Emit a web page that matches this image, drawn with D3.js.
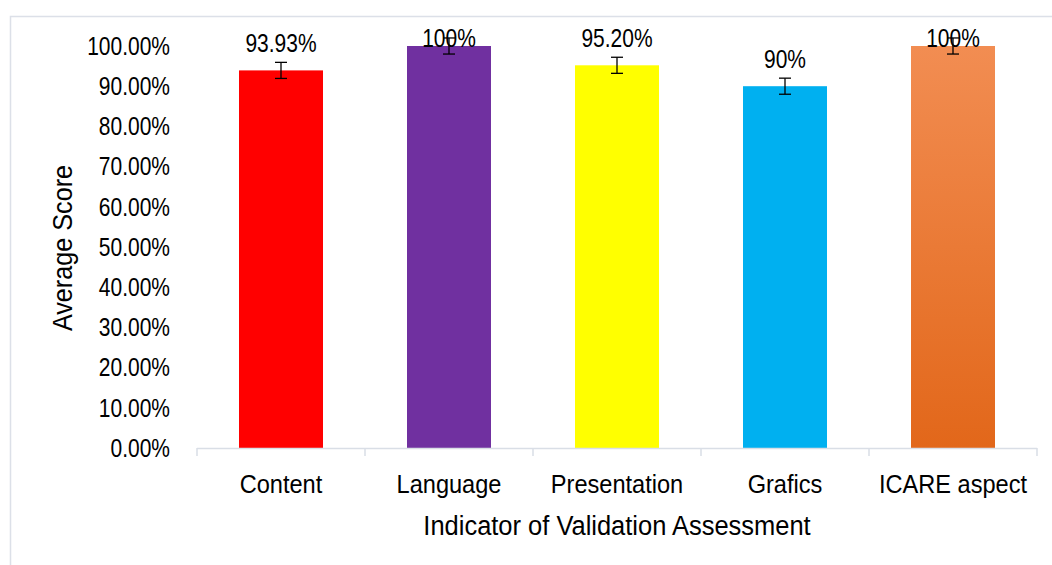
<!DOCTYPE html>
<html>
<head>
<meta charset="utf-8">
<script src="https://cdn.jsdelivr.net/npm/d3@7"></script>
<style>
  body { margin: 0; background: #fff; }
  svg text { font-family: "Liberation Sans", Arial, sans-serif; fill: #000; }
</style>
</head>
<body>
<svg id="chart"></svg>
<script>
const categories = ["Content", "Language", "Presentation", "Grafics", "ICARE aspect"];
const scores = [93.93, 100, 95.2, 90, 100];
const errors = [2, 2, 2, 2, 2];
const valueLabels = ["93.93%", "100%", "95.20%", "90%", "100%"];
const yTicks = [0, 10, 20, 30, 40, 50, 60, 70, 80, 90, 100];
const colors = ["#FF0000", "#7030A0", "#FFFF00", "#00B0F0", "url(#orangeGrad)"];

const svgWidth = 1052, svgHeight = 565;
const plotLeft = 197, plotRight = 1037, plotTop = 46, plotBottom = 448;

const svg = d3.select("#chart")
    .attr("width", svgWidth)
    .attr("height", svgHeight);

// gradient for the last bar
const grad = svg.append("defs").append("linearGradient")
    .attr("id", "orangeGrad")
    .attr("x1", 0).attr("y1", 0).attr("x2", 0).attr("y2", 1);
grad.append("stop").attr("offset", "0%").attr("stop-color", "#F28D52");
grad.append("stop").attr("offset", "100%").attr("stop-color", "#E2671A");

// chart frame
svg.append("rect")
    .attr("x", 10.5).attr("y", 16.5)
    .attr("width", 1100).attr("height", 600)
    .attr("fill", "none")
    .attr("stroke", "#DCE0E8")
    .attr("stroke-width", 1.5);

const x = d3.scaleBand()
    .domain(categories)
    .range([plotLeft, plotRight])
    .paddingInner(0.5)
    .paddingOuter(0.25);

const y = d3.scaleLinear()
    .domain([0, 100])
    .range([plotBottom, plotTop]);

// narrow font look: squeeze Liberation Sans horizontally
const at = (px, py, s) => `translate(${px},${py}) scale(${s},1)`;

// y tick labels (no axis line in the original)
svg.selectAll(".ytick")
    .data(yTicks)
    .enter()
    .append("text")
    .attr("class", "ytick")
    .attr("transform", d => at(170, y(d), 0.84))
    .attr("dy", "0.35em")
    .attr("text-anchor", "end")
    .style("font-size", "25px")
    .text(d => d.toFixed(2) + "%");

// bars
svg.selectAll(".bar")
    .data(scores)
    .enter()
    .append("rect")
    .attr("class", "bar")
    .attr("x", (d, i) => x(categories[i]))
    .attr("y", d => y(d))
    .attr("width", x.bandwidth())
    .attr("height", d => y(0) - y(d))
    .attr("fill", (d, i) => colors[i]);

// x axis line and boundary ticks
svg.append("line")
    .attr("x1", plotLeft).attr("x2", plotRight)
    .attr("y1", plotBottom + 0.5).attr("y2", plotBottom + 0.5)
    .attr("stroke", "#D9DEE6")
    .attr("stroke-width", 1.5);

const bounds = d3.range(categories.length + 1).map(i => plotLeft + i * x.step());
svg.selectAll(".xtick")
    .data(bounds)
    .enter()
    .append("line")
    .attr("x1", d => d).attr("x2", d => d)
    .attr("y1", plotBottom).attr("y2", plotBottom + 8)
    .attr("stroke", "#D9DEE6")
    .attr("stroke-width", 1.5);

// error bars
const eb = svg.selectAll(".err")
    .data(scores)
    .enter()
    .append("g")
    .attr("class", "err")
    .attr("transform", (d, i) => `translate(${x(categories[i]) + x.bandwidth() / 2},0)`);

eb.append("line")
    .attr("y1", (d, i) => y(d + errors[i]))
    .attr("y2", (d, i) => y(d - errors[i]))
    .attr("stroke", "#000").attr("stroke-width", 1.3);
eb.append("line")
    .attr("x1", -6).attr("x2", 6)
    .attr("y1", (d, i) => y(d + errors[i]))
    .attr("y2", (d, i) => y(d + errors[i]))
    .attr("stroke", "#000").attr("stroke-width", 1.3);
eb.append("line")
    .attr("x1", -6).attr("x2", 6)
    .attr("y1", (d, i) => y(d - errors[i]))
    .attr("y2", (d, i) => y(d - errors[i]))
    .attr("stroke", "#000").attr("stroke-width", 1.3);

// value labels
svg.selectAll(".val")
    .data(scores)
    .enter()
    .append("text")
    .attr("class", "val")
    .attr("transform", (d, i) => at(x(categories[i]) + x.bandwidth() / 2,
        d >= 100 ? y(d) + 1 : y(d + errors[i]) - 10, 0.84))
    .attr("text-anchor", "middle")
    .style("font-size", "25px")
    .text((d, i) => valueLabels[i]);

// category labels
svg.selectAll(".cat")
    .data(categories)
    .enter()
    .append("text")
    .attr("class", "cat")
    .attr("transform", d => at(x(d) + x.bandwidth() / 2, 493, 0.89))
    .attr("text-anchor", "middle")
    .style("font-size", "26.5px")
    .text(d => d);

// axis titles
svg.append("text")
    .attr("transform", at((plotLeft + plotRight) / 2, 535, 0.91))
    .attr("text-anchor", "middle")
    .style("font-size", "28px")
    .text("Indicator of Validation Assessment");

svg.append("text")
    .attr("transform", `translate(72,${(plotTop + plotBottom) / 2 + 1}) rotate(-90) scale(0.9,1)`)
    .attr("text-anchor", "middle")
    .style("font-size", "28px")
    .text("Average Score");
</script>
</body>
</html>
